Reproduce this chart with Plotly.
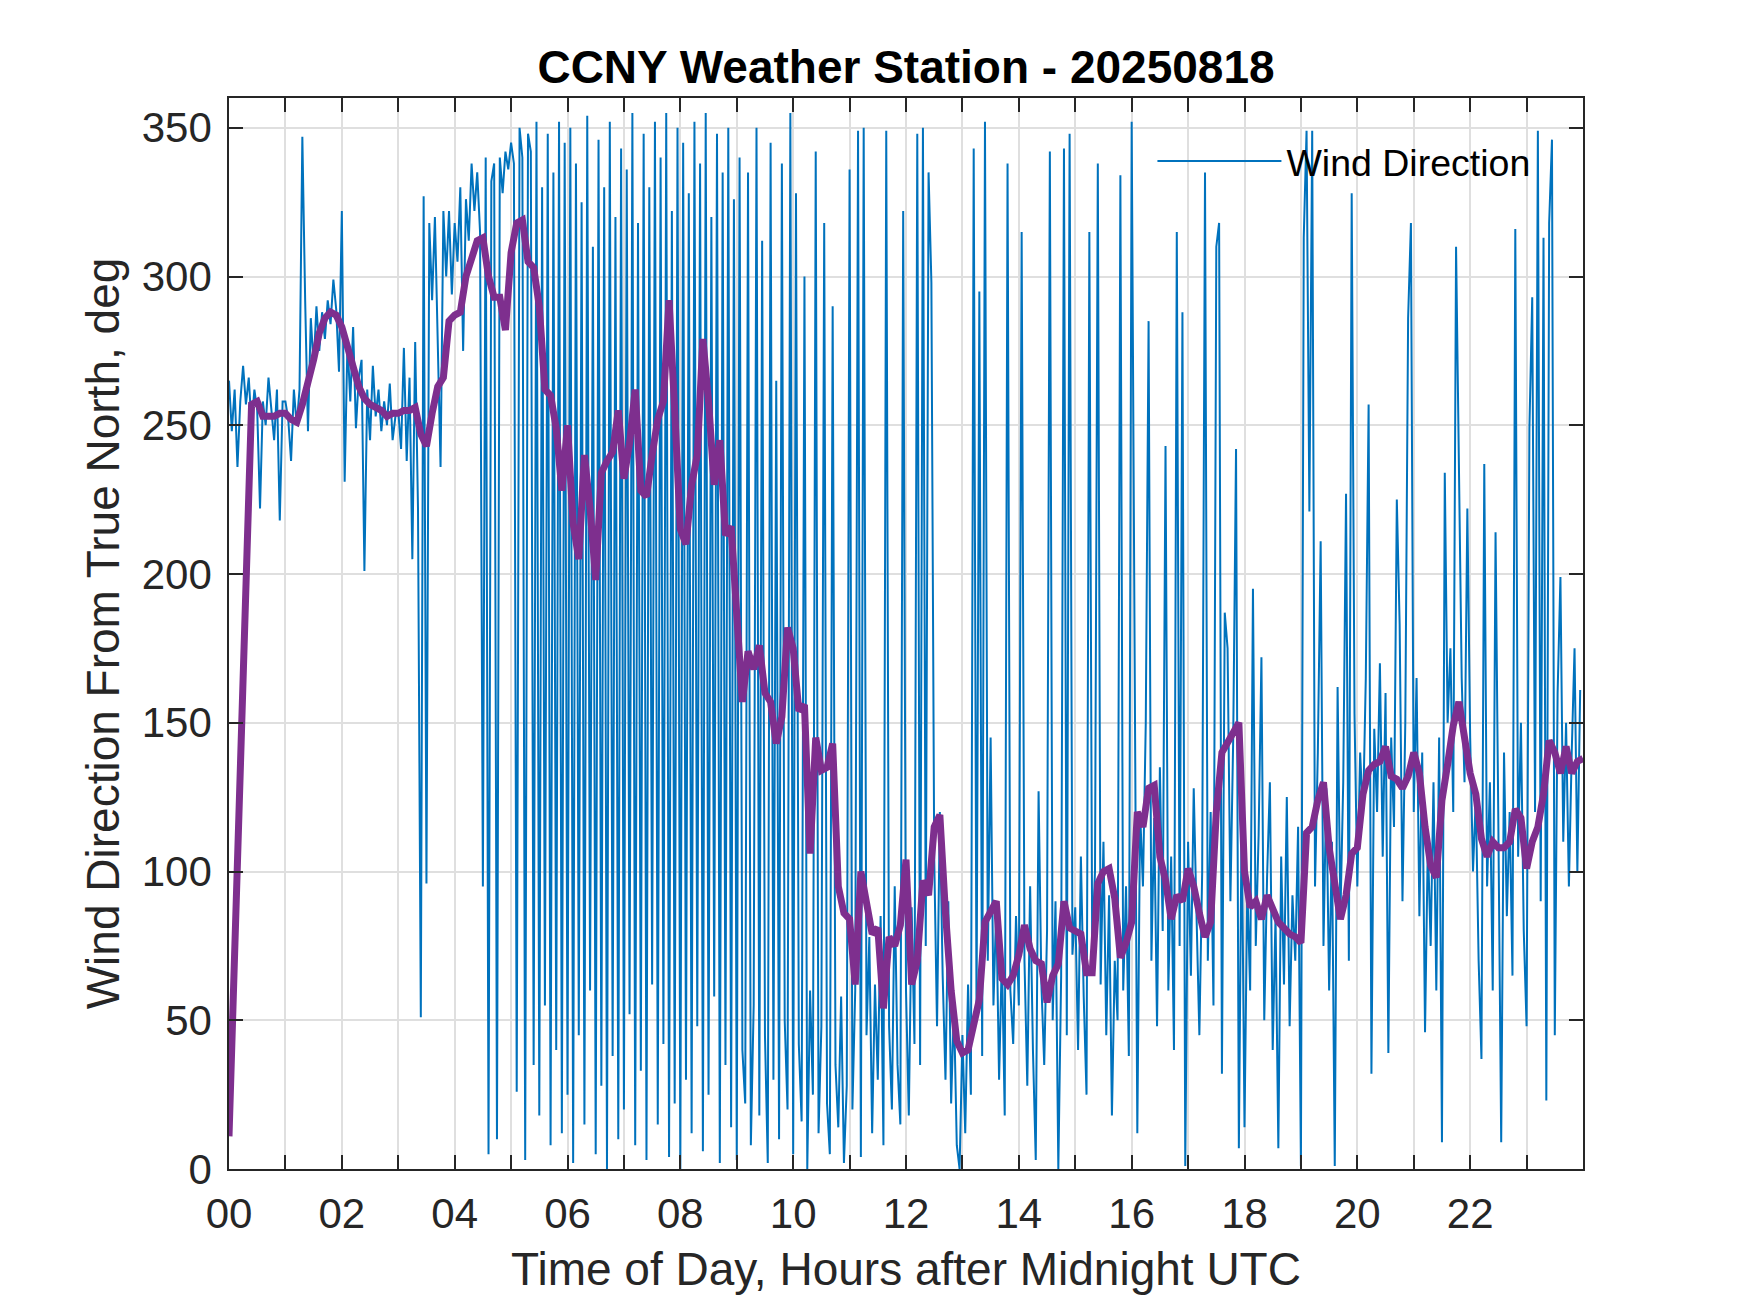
import plotly.graph_objects as go

# wind direction, one reading every 3 minutes (deg from true north)
wind_dir_00_06 = [
    265, 248, 262, 236, 258, 270, 257, 266, 250, 262, 255, 222, 258, 250, 266, 255, 245, 262, 218, 258,
    258, 252, 238, 262, 250, 262, 347, 292, 248, 286, 270, 290, 275, 288, 279, 292, 284, 299, 289, 268,
    322, 231, 278, 258, 283, 249, 266, 272, 201, 262, 245, 270, 253, 262, 248, 258, 250, 264, 245, 253,
    255, 242, 276, 238, 266, 205, 278, 222, 51, 327, 96, 318, 292, 320, 280, 236, 322, 300, 322, 294,
    318, 305, 330, 275, 326, 312, 338, 322, 335, 315, 95, 340, 5, 332, 338, 10, 340, 328, 342, 336,
    345, 338, 26, 350, 340, 3, 348, 342, 35, 352, 18, 330, 55, 348, 8, 335, 40, 352, 12, 345,
]
wind_dir_06_12 = [
    25, 350, 2, 338, 45, 325, 15, 354, 60, 310, 5, 346, 28, 330, 0, 352, 38, 320, 10, 343,
    20, 336, 52, 355, 8, 318, 33, 348, 3, 330, 62, 352, 15, 340, 42, 355, 4, 322, 22, 350,
    0, 345, 30, 328, 12, 352, 48, 338, 6, 355, 25, 320, 58, 348, 2, 335, 35, 350, 14, 326,
    3, 340, 40, 22, 335, 8, 55, 350, 18, 312, 45, 2, 345, 30, 265, 10, 338, 50, 20, 355,
    5, 328, 42, 16, 300, 0, 60, 25, 342, 12, 48, 318, 22, 5, 290, 35, 14, 58, 2, 28,
    336, 20, 60, 349, 4, 350, 45, 78, 12, 62, 30, 85, 8, 349, 48, 20, 95, 35, 15, 322,
]
wind_dir_12_18 = [
    60, 18, 88, 42, 348, 35, 350, 75, 335, 298, 105, 48, 120, 65, 30, 90, 22, 55, 8, 0,
    45, 12, 62, 25, 343, 50, 295, 38, 352, 70, 145, 55, 88, 30, 72, 18, 338, 60, 42, 85,
    55, 315, 70, 28, 95, 40, 3, 127, 62, 35, 80, 342, 50, 90, 0, 65, 343, 45, 348, 72,
    88, 40, 105, 58, 25, 315, 75, 100, 338, 62, 110, 45, 92, 18, 70, 50, 334, 60, 95, 38,
    352, 164, 12, 120, 95, 150, 285, 70, 118, 48, 135, 80, 243, 60, 105, 40, 315, 75, 288, 1,
    110, 65, 128, 85, 45, 100, 335, 70, 120, 55, 310, 318, 32, 187, 175, 90, 145, 242, 7, 120,
]
wind_dir_18_24 = [
    14, 95, 60, 195, 75, 112, 172, 50, 98, 130, 40, 85, 7, 105, 62, 125, 48, 92, 70, 115,
    1, 313, 349, 221, 349, 95, 140, 211, 75, 128, 60, 110, 1, 162, 85, 130, 227, 70, 328, 153,
    95, 140, 118, 165, 257, 32, 148, 120, 170, 105, 160, 39, 145, 115, 225, 183, 90, 150, 286, 318,
    120, 165, 85, 140, 46, 110, 75, 130, 60, 145, 9, 234, 150, 175, 120, 310, 241, 165, 130, 222,
    145, 100, 125, 70, 37, 237, 95, 130, 60, 214, 115, 9, 140, 85, 120, 65, 316, 105, 150, 80,
    48, 249, 293, 120, 349, 90, 313, 23, 318, 346, 45, 160, 199, 110, 150, 95, 140, 175, 100, 161,
]

# running mean, one value every 6 minutes (gaps are bridged)
wind_avg = [
    11, None, None, None, 257, 258, 253, 253, 253, 254,
    254, 252, 251, 257, 264, 272, 281, 286, 288, 287,
    283, 276, 269, 263, 259, 257, 256, 255, 253, 254,
    254, 255, 255, 256, 247, 243, 254, 263, 266, 285,
    287, 288, 300, 306, 312, 313, 300, 293, 293, 282,
    308, 318, 319, 305, 303, 290, 262, 260, 249, 228,
    250, 217, 205, 240, 222, 198, 234, 238, 241, 255,
    232, 244, 262, 228, 226, 240, 252, 258, 292, 255,
    215, 210, 230, 240, 279, 258, 230, 245, 213, 216,
    185, 157, 174, 168, 176, 160, 157, 143, 152, 182,
    175, 154, 156, 106, 145, 134, 135, 143, 95, 86,
    84, 62, 100, 88, 79, 81, 54, 78, 75, 82,
    104, 62, 70, 97, 92, 115, 119, 86, 60, 43,
    39, 40, 48, 57, 83, 86, 90, 64, 62, 65,
    72, 82, 74, 70, 69, 56, 65, 69, 90, 81,
    80, 79, 66, 66, 96, 100, 101, 91, 71, 76,
    83, 120, 115, 128, 129, 105, 97, 84, 92, 90,
    101, 95, 86, 78, 83, 120, 140, 143, 146, 150,
    100, 88, 90, 84, 92, 88, 83, 81, 79, 78,
    76, 113, 115, 124, 130, 108, 94, 84, 92, 106,
    108, 126, 134, 136, 137, 142, 132, 131, 128, 132,
    140, 133, 115, 102, 98, 124, 136, 149, 157, 143,
    133, 126, 111, 105, 110, 108, 108, 110, 121, 118,
    101, 110, 115, 126, 144, 140, 133, 142, 133, 137,
    138,
]

hour_ticks = list(range(24))
hour_labels = ["%02d" % h if h % 2 == 0 else "" for h in hour_ticks]
deg_ticks = [0, 50, 100, 150, 200, 250, 300, 350]

wind_dir = wind_dir_00_06 + wind_dir_06_12 + wind_dir_12_18 + wind_dir_18_24
t_dir = [i * 3 / 60 for i in range(len(wind_dir))]
t_avg = [i * 6 / 60 for i in range(len(wind_avg))]

AX_COL = "rgb(38,38,38)"
GRID_COL = "rgb(223,223,223)"
FONT = "Liberation Sans, Arial, Helvetica, sans-serif"

trace1 = go.Scatter(x=t_dir, y=wind_dir, mode="lines", name="Wind Direction",
                    line=dict(color="#0072BD", width=2))
trace2 = go.Scatter(x=t_avg, y=wind_avg, mode="lines", showlegend=False,
                    connectgaps=True, line=dict(color="#7E2F8E", width=7))

fig = go.Figure(data=[trace1, trace2])
fig.update_layout(
    width=1750, height=1313,
    paper_bgcolor="white", plot_bgcolor="white",
    margin=dict(l=221, r=175, t=90, b=152),
    font=dict(family=FONT, color=AX_COL),
    title=dict(text="<b>CCNY Weather Station - 20250818</b>",
               font=dict(size=46, color="black", family=FONT),
               x=0.5, xref="paper", xanchor="center",
               y=1 - 59 / 1313, yref="container", yanchor="middle"),
    showlegend=True,
    legend=dict(x=0.682, y=0.941, xanchor="left", yanchor="middle",
                bgcolor="rgba(0,0,0,0)", borderwidth=0, itemwidth=124,
                font=dict(size=37.5, color="black", family=FONT)),
    xaxis=dict(
        range=[0, 24],
        tickvals=hour_ticks, ticktext=hour_labels,
        ticks="inside", ticklen=14, tickwidth=1.5, tickcolor=AX_COL,
        ticklabelstandoff=7,
        tickfont=dict(size=42, color=AX_COL),
        showline=True, linecolor=AX_COL, linewidth=1.5, mirror="ticks",
        showgrid=True, gridcolor=GRID_COL, gridwidth=1.5,
        zeroline=False,
        title=dict(text="Time of Day, Hours after Midnight UTC",
                   font=dict(size=46, color=AX_COL), standoff=17),
    ),
    yaxis=dict(
        range=[0, 360],
        tickvals=deg_ticks,
        ticks="inside", ticklen=14, tickwidth=1.5, tickcolor=AX_COL,
        ticklabelstandoff=7,
        tickfont=dict(size=42, color=AX_COL),
        showline=True, linecolor=AX_COL, linewidth=1.5, mirror="ticks",
        showgrid=True, gridcolor=GRID_COL, gridwidth=1.5,
        zeroline=False,
        title=dict(text="Wind Direction From True North, deg",
                   font=dict(size=46, color=AX_COL), standoff=8),
    ),
)

fig.write_html("out.html")
